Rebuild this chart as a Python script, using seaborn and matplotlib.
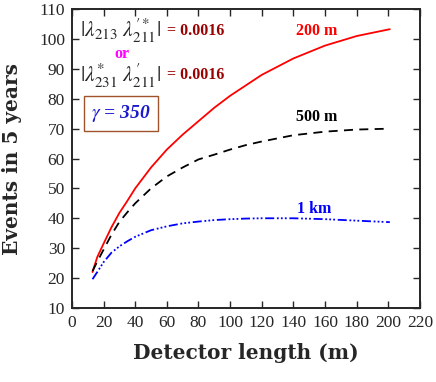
import matplotlib
matplotlib.use("Agg")
import matplotlib.pyplot as plt
import numpy as np
import pandas as pd
import seaborn as sns

# values
length = [13, 16, 20, 25, 30, 35, 40, 50, 60, 70, 80, 90, 100, 110, 120, 140, 160, 180, 201]
ev_200m = [22, 27, 31.5, 37, 41.8, 45.8, 50, 57, 63, 68, 72.5, 77, 81, 84.5, 88,
           93.5, 97.8, 101, 103.3]
ev_500m = [22.3, 25.5, 29.5, 34.5, 38.8, 42, 45, 50, 54, 57, 59.7, 61.3, 63, 64.5, 65.7,
           67.8, 69, 69.7, 70]
ev_1km = [19.6, 22, 25.3, 28.5, 30.6, 32.3, 33.8, 36, 37.3, 38.3, 38.9, 39.4, 39.7, 39.9, 40,
          40, 39.7, 39.2, 38.7]

x_ticks = list(range(0, 221, 20))
y_ticks = list(range(10, 111, 10))

sns.set_style("ticks")
plt.rcParams["font.family"] = ["Liberation Serif", "DejaVu Serif"]
plt.rcParams["mathtext.fontset"] = "stix"

df = pd.DataFrame({
    "length": length * 3,
    "events": ev_200m + ev_500m + ev_1km,
    "baseline": ["200 m"] * len(length) + ["500 m"] * len(length) + ["1 km"] * len(length),
})

fig, ax = plt.subplots(figsize=(4.36, 3.82), dpi=100)
fig.subplots_adjust(left=0.165, right=0.963, top=0.976, bottom=0.194)

sns.lineplot(data=df, x="length", y="events", hue="baseline", style="baseline",
             palette={"200 m": "#ff0000", "500 m": "black", "1 km": "#0000ff"},
             dashes={"200 m": "", "500 m": (5, 3.5), "1 km": (5, 1.5, 1, 1.2, 1, 1.2, 1, 1.5)},
             linewidth=1.3, legend=False, ax=ax, sort=False)

ax.set_xlim(0, 220)
ax.set_ylim(10, 110)
ax.set_xticks(x_ticks)
ax.set_yticks(y_ticks)
ax.tick_params(direction="in", length=5, width=1, top=True, right=True, pad=5,
               labelsize=12.5, labeltop=False, labelright=False)
for s in ax.spines.values():
    s.set_linewidth(1.4)
    s.set_visible(True)

lab_font = dict(family="DejaVu Serif", fontsize=14.5, fontweight="bold")
ax.set_xlabel("Detector length (m)", labelpad=9, **lab_font)
ax.set_ylabel("Events in 5 years", labelpad=12, **lab_font)

# coupling annotations
ax.text(5, 102.6, r"$|\lambda_{213}\ \lambda^{\prime *}_{211}|$", fontsize=15.5,
        va="center", ha="left")
ax.text(60, 102.6, "= 0.0016", fontsize=11.5, fontweight="bold", color="#990000",
        va="center", ha="left")
ax.text(31.5, 95, "or", fontsize=11.5, fontweight="bold", color="#ff00ff",
        va="center", ha="center")
ax.text(5, 87.8, r"$|\lambda^{*}_{231}\ \lambda^{\prime}_{211}|$", fontsize=15.5,
        va="center", ha="left")
ax.text(60, 87.8, "= 0.0016", fontsize=11.5, fontweight="bold", color="#990000",
        va="center", ha="left")
ax.text(31, 75, r"$\gamma$ = 350", fontsize=14, fontweight="bold", style="italic",
        color="#1a1acc", va="center", ha="center",
        bbox=dict(boxstyle="square,pad=0.35", fc="white", ec="#a0522d", lw=1))

ax.text(155, 102.6, "200 m", fontsize=11.5, fontweight="bold", color="#ff0000",
        va="center", ha="center")
ax.text(155, 74, "500 m", fontsize=11.5, fontweight="bold", color="black",
        va="center", ha="center")
ax.text(153, 43, "1 km", fontsize=11.5, fontweight="bold", color="#0000ff",
        va="center", ha="center")

fig.savefig("out.png", dpi=100)
